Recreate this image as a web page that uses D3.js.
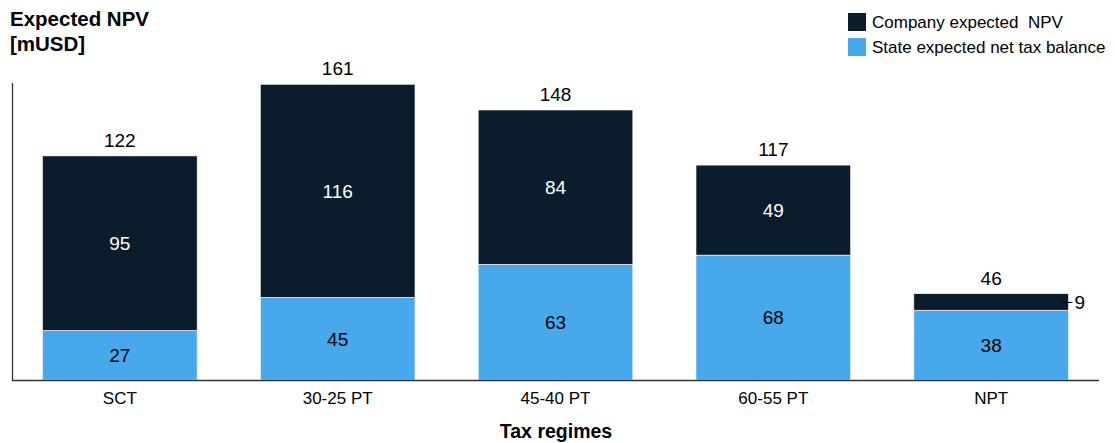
<!DOCTYPE html>
<html>
<head>
<meta charset="utf-8">
<script src="https://cdn.jsdelivr.net/npm/d3@7"></script>
<style>
  html, body { margin: 0; padding: 0; background: #fff; }
  svg { display: block; font-family: "Liberation Sans", Arial, Helvetica, sans-serif; }
</style>
</head>
<body>
<svg id="chart" width="1115" height="443"></svg>
<script>
// Tax regime categories and the two stacked series (mUSD)
const categories = ["SCT", "30-25 PT", "45-40 PT", "60-55 PT", "NPT"];
const stateBalance = [27, 45, 63, 68, 38];
const companyNPV = [95, 116, 84, 49, 9];
const totals = [122, 161, 148, 117, 46];

const seriesNames = ["State expected net tax balance", "Company expected  NPV"];
const colors = { state: "#48a8ec", company: "#0b1c2c" };

const svg = d3.select("#chart");
const margin = { left: 12, right: 16, top: 83, bottom: 63 };
const W = 1115, H = 443;
const baseY = H - margin.bottom;

const x = d3.scaleBand()
  .domain(categories)
  .range([margin.left, W - margin.right])
  .paddingInner(0.29)
  .paddingOuter(0.14);

const y = d3.scaleLinear()
  .domain([0, 161.7])
  .range([baseY, margin.top]);

const rows = categories.map((c, i) => ({
  cat: c, state: stateBalance[i], company: companyNPV[i], total: totals[i]
}));

const stack = d3.stack().keys(["state", "company"]);
const layers = stack(rows);

const g = svg.append("g");

layers.forEach(layer => {
  g.append("g").selectAll("rect")
    .data(layer)
    .join("rect")
    .attr("x", d => x(d.data.cat))
    .attr("width", x.bandwidth())
    .attr("y", d => y(d[1]))
    .attr("height", d => y(d[0]) - y(d[1]))
    .attr("fill", colors[layer.key])
    .attr("stroke", "#ffffff")
    .attr("stroke-width", 0.6);
});

// segment value labels
layers.forEach(layer => {
  layer.forEach(d => {
    const v = d.data[layer.key];
    const cx = x(d.data.cat) + x.bandwidth() / 2;
    const cy = (y(d[0]) + y(d[1])) / 2;
    const h = y(d[0]) - y(d[1]);
    if (h >= 22) {
      g.append("text")
        .attr("x", cx)
        .attr("y", cy)
        .attr("dy", "0.36em")
        .attr("text-anchor", "middle")
        .attr("font-size", 19)
        .attr("fill", layer.key === "company" ? "#ffffff" : "#000000")
        .text(v);
    } else {
      const xr = x(d.data.cat) + x.bandwidth();
      g.append("line")
        .attr("x1", xr - 6).attr("x2", xr + 4)
        .attr("y1", cy + 0.5).attr("y2", cy + 0.5)
        .attr("stroke", "#000").attr("stroke-width", 1);
      g.append("text")
        .attr("x", xr + 6)
        .attr("y", cy)
        .attr("dy", "0.36em")
        .attr("font-size", 19)
        .attr("fill", "#000")
        .text(v);
    }
  });
});

// totals above bars
g.append("g").selectAll("text")
  .data(rows)
  .join("text")
  .attr("x", d => x(d.cat) + x.bandwidth() / 2)
  .attr("y", d => y(d.state + d.company) - 9)
  .attr("text-anchor", "middle")
  .attr("font-size", 19)
  .attr("fill", "#000")
  .text(d => d.total);

// axes
const xAxis = svg.append("g")
  .attr("transform", `translate(0,${baseY})`)
  .call(d3.axisBottom(x).tickSize(0).tickPadding(12));
xAxis.select(".domain")
  .attr("d", `M${margin.left},0.5H${W - margin.right}`)
  .attr("stroke", "#333").attr("stroke-width", 1.3);
xAxis.selectAll("text")
  .attr("font-size", 17)
  .attr("fill", "#000")
  .attr("font-family", "Liberation Sans, Arial, sans-serif");

svg.append("line")
  .attr("x1", margin.left + 0.5).attr("x2", margin.left + 0.5)
  .attr("y1", margin.top).attr("y2", baseY)
  .attr("stroke", "#333").attr("stroke-width", 1.3);

// titles
const title = svg.append("text")
  .attr("x", 10).attr("y", 26)
  .attr("font-size", 20.5).attr("font-weight", "bold").attr("fill", "#000");
title.append("tspan").attr("x", 10).attr("dy", 0).text("Expected NPV");
title.append("tspan").attr("x", 10).attr("dy", 25).text("[mUSD]");

svg.append("text")
  .attr("x", 556)
  .attr("y", 438)
  .attr("text-anchor", "middle")
  .attr("font-size", 19.5).attr("font-weight", "bold").attr("fill", "#000")
  .text("Tax regimes");

// legend
const legendItems = [
  { label: seriesNames[1], color: colors.company },
  { label: seriesNames[0], color: colors.state }
];
const legend = svg.append("g").attr("transform", "translate(848,13)");
legendItems.forEach((it, i) => {
  const row = legend.append("g").attr("transform", `translate(0,${i * 25})`);
  row.append("rect").attr("width", 18).attr("height", 18).attr("fill", it.color);
  row.append("text").attr("x", 24).attr("y", 9).attr("dy", "0.36em")
    .attr("font-size", 17).attr("fill", "#000")
    .style("white-space", "pre")
    .text(it.label);
});
</script>
</body>
</html>
